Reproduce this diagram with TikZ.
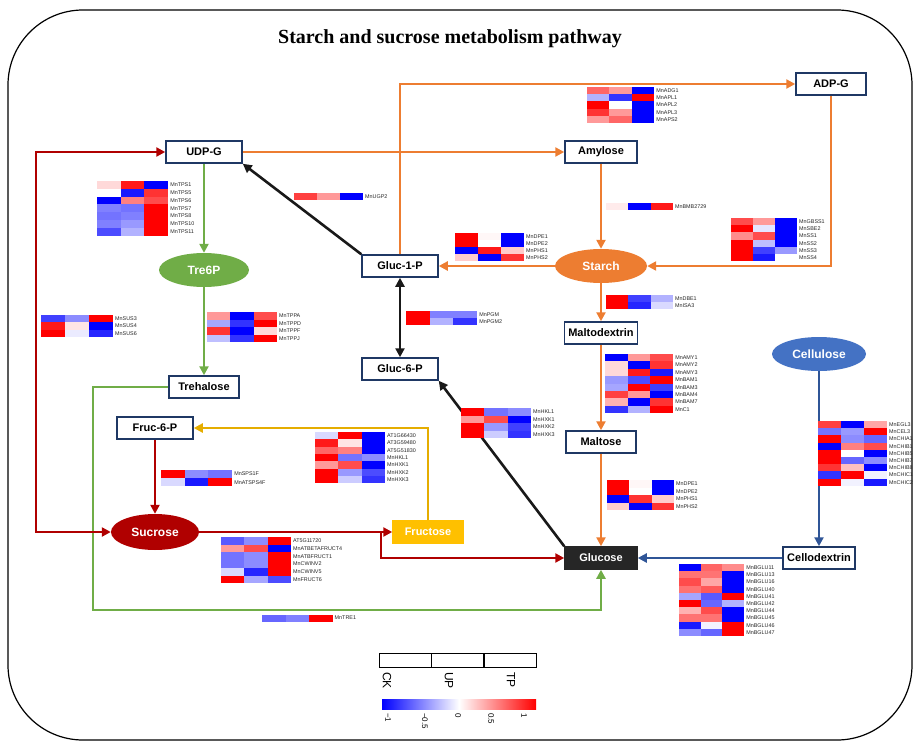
\documentclass[tikz,border=0pt]{standalone}
\usepackage{fontspec}
\setmainfont{Liberation Serif}
\setsansfont{Liberation Sans}
\usetikzlibrary{arrows.meta,shapes.geometric,positioning}
\definecolor{BoxNavy}{HTML}{1F3864}
\definecolor{StarchOrange}{HTML}{ED7D31}
\definecolor{TreGreen}{HTML}{70AD47}
\definecolor{SucRed}{HTML}{B00000}
\definecolor{CellBlue}{HTML}{4472C4}
\definecolor{CellLine}{HTML}{2F5597}
\definecolor{FruYellow}{HTML}{FFC000}

% heatmap: id, x, y (top), cell width, row height, rows v1/v2/v3/gene
\newcommand\heatmap[6]{%
  \foreach [count=\row from 0] \va/\vb/\vc/\g in {#6} {
    \foreach [count=\col from 0] \v in {\va,\vb,\vc} {
      \pgfmathtruncatemacro\pc{abs(\v)}
      \ifnum\v<0 \colorlet{hmc}{blue!\pc!white}\else\colorlet{hmc}{red!\pc!white}\fi
      \fill[hmc] ({#2+\col*#4},{#3+\row*#5}) rectangle ++(#4,#5);
    }
    \node[gene] (#1-\g) at ({#2+3*#4+2},{#3+(\row+0.5)*#5}) {\g};
  }
}

\begin{document}
\begin{tikzpicture}[x=1pt,y=-1pt,
  met/.style={draw=BoxNavy, line width=1.5pt, fill=white, minimum width=70pt,
              minimum height=22pt, inner xsep=4pt,
              font=\sffamily\bfseries\fontsize{11}{13}\selectfont},
  blob/.style={ellipse, minimum width=92pt, minimum height=34pt, text=white,
               font=\sffamily\bfseries\fontsize{12}{14}\selectfont},
  arr/.style={-{Triangle[length=9pt,width=9pt]}, line width=2.6pt},
  dbl/.style={{Triangle[length=9pt,width=9pt]}-{Triangle[length=9pt,width=9pt]},
              line width=2.6pt},
  gene/.style={anchor=west, inner sep=0pt, text=black!85,
               font=\sffamily\fontsize{5.4}{6}\selectfont},
  legbox/.style={draw, line width=0.6pt, minimum width=52pt, minimum height=14pt,
                 inner sep=0pt},
  legtxt/.style={anchor=west, rotate=-90, inner sep=0pt,
                 font=\sffamily\fontsize{12}{14}\selectfont},
  ticktxt/.style={anchor=west, rotate=-90, inner sep=0pt,
                  font=\sffamily\fontsize{8}{9}\selectfont}
]
\useasboundingbox (0,0) rectangle (919,744);
\draw[line width=1.2pt, rounded corners=75pt] (8,10) rectangle (912,740);

\node[font=\bfseries\fontsize{20}{24}\selectfont] (title) at (450,39)
  {Starch and sucrose metabolism pathway};

% metabolites
\node[met, minimum width=76pt] (udpg) at (204,152) {UDP-G};
\node[met] (adpg) at (831,84) {ADP-G};
\node[met, minimum width=72pt] (amylose) at (601,152) {Amylose};
\node[met, minimum width=76pt] (g1p) at (400,266) {Gluc-1-P};
\node[met, minimum width=76pt] (g6p) at (400,369) {Gluc-6-P};
\node[met] (maltodextrin) at (601,333) {Maltodextrin};
\node[met] (maltose) at (601,442) {Maltose};
\node[met] (trehalose) at (204,387) {Trehalose};
\node[met, minimum width=76pt] (fruc6p) at (155,428) {Fruc-6-P};
\node[met] (cellodextrin) at (819,558) {Cellodextrin};
\node[met, draw=black!85, fill=black!85, text=white, minimum width=72pt] (glucose)
  at (601,558) {Glucose};
\node[met, draw=FruYellow, fill=FruYellow, text=white] (fructose) at (428,532) {Fructose};
\node[blob, fill=StarchOrange] (starch) at (601,266) {Starch};
\node[blob, fill=TreGreen, minimum width=90pt] (tre6p) at (204,270) {Tre6P};
\node[blob, fill=SucRed, minimum width=88pt, minimum height=36pt] (sucrose)
  at (155,532) {Sucrose};
\node[blob, fill=CellBlue, minimum width=94pt] (cellulose) at (819,354) {Cellulose};

% orange
\draw[arr, StarchOrange] (udpg.east) -- (amylose.west);
\draw[arr, StarchOrange] (amylose.south) -- (starch.north);
\draw[arr, StarchOrange] (g1p.north) |- (adpg.west);
\draw[arr, StarchOrange] (adpg.south) |- (starch.east);
\draw[arr, StarchOrange] (starch.west) -- (g1p.east);
\draw[arr, StarchOrange] (starch.south) -- (maltodextrin.north);
\draw[arr, StarchOrange] (maltodextrin.south) -- (maltose.north);
\draw[arr, StarchOrange] (maltose.south) -- (glucose.north);

% green
\coordinate (trecorner) at (93,610);
\draw[arr, TreGreen] (udpg.south) -- (tre6p.north);
\draw[arr, TreGreen] (tre6p.south) -- (trehalose.north);
\draw[arr, TreGreen] (trehalose.west) -| (trecorner) -| (glucose.south);

% dark red
\coordinate (sucup) at (36,152);
\coordinate (sucdown) at (36,532);
\coordinate (sucsplit) at (381,532);
\draw[dbl, SucRed] (udpg.west) -- (sucup) -- (sucdown) -- (sucrose.west);
\draw[arr, SucRed] (fruc6p.south) -- (sucrose.north);
\draw[arr, SucRed] (sucrose.east) -- (fructose.west);
\draw[arr, SucRed] (sucsplit) |- (glucose.west);

% yellow
\draw[arr, FruYellow!90!black] (fructose.north) |- (fruc6p.east);

% black
\draw[arr, black!90] (g1p.north west) -- (udpg.south east);
\draw[dbl, black!90] (g1p.south) -- (g6p.north);
\draw[arr, black!90] (glucose.north west) -- (g6p.south east);

% blue
\draw[arr, CellLine] (cellulose.south) -- (cellodextrin.north);
\draw[arr, CellLine] (cellodextrin.west) -- (glucose.east);

% heatmaps
\heatmap{adp}{587}{87}{22.4}{7.2}{60/40/-100/MnADG1, -30/-80/100/MnAPL1,
  100/0/-100/MnAPL2, 80/40/-100/MnAPL3, 40/60/-100/MnAPS2}
\heatmap{tps}{97}{181}{23.7}{7.8}{15/90/-100/MnTPS1, 0/-90/80/MnTPS5,
  -100/50/70/MnTPS6, -50/-55/100/MnTPS7, -55/-50/100/MnTPS8,
  -50/-40/100/MnTPS10, -70/-30/100/MnTPS11}
\heatmap{ugp}{294}{193}{23}{7}{75/40/-100/MnUGP2}
\heatmap{bmb}{606}{203}{22.3}{6.5}{8/-100/90/MnBMB2729}
\heatmap{gbss}{731}{218}{22}{7.2}{70/40/-100/MnGBSS1, 100/-10/-100/MnSBE2,
  45/70/-100/MnSS1, 100/-25/-100/MnSS2, 100/-75/-40/MnSS3, 100/-90/0/MnSS4}
\heatmap{dpea}{455}{233}{23}{7}{100/3/-100/MnDPE1, 100/0/-100/MnDPE2,
  -100/90/20/MnPHS1, 20/-100/80/MnPHS2}
\heatmap{sus}{41}{315}{24}{7.3}{-75/-45/100/MnSUS3, 90/10/-100/MnSUS4,
  100/-8/-85/MnSUS6}
\heatmap{tpp}{207}{312}{23.3}{7.5}{40/-100/70/MnTPPA, -35/-80/100/MnTPPD,
  80/-100/15/MnTPPF, -25/-80/100/MnTPPJ}
\heatmap{pgm}{406}{311}{23.7}{7}{100/-50/-50/MnPGM, 100/-30/-80/MnPGM2}
\heatmap{dbe}{606}{295}{22.3}{7}{100/-75/-30/MnDBE1, 100/-85/-15/MnISA3}
\heatmap{amy}{605}{354}{22.7}{7.4}{-100/40/70/MnAMY1, 15/-100/80/MnAMY2,
  15/90/-90/MnAMY3, -40/-70/100/MnBAM1, -35/100/-75/MnBAM3,
  75/40/-100/MnBAM4, 30/-100/80/MnBAM7, -80/-30/100/MnC1}
\heatmap{hxk}{461}{408}{23.3}{7.5}{100/-55/-45/MnHKL1, 40/70/-100/MnHXK1,
  100/-40/-75/MnHXK2, 100/-20/-80/MnHXK3}
\heatmap{frk}{315}{432}{23.3}{7.3}{-15/100/-100/AT1G66430, 90/10/-100/AT3G59480,
  60/50/-100/AT5G51830, 100/-55/-45/MnHKL1, 40/70/-100/MnHXK1,
  100/-40/-70/MnHXK2, 100/-20/-80/MnHXK3}
\heatmap{egl}{818}{421}{23}{7.2}{75/-100/35/MnEGL3, -55/-40/100/MnCEL3,
  100/-45/-60/MnCHIA1, -100/50/70/MnCHIB1, 100/0/-100/MnCHIB5,
  100/-60/-45/MnCHIB7, 80/25/-100/MnCHIB8, -80/100/-5/MnCHIC1,
  100/-5/-90/MnCHIC2}
\heatmap{sps}{161}{470}{23.7}{8.2}{100/-45/-55/MnSPS1F, -15/-90/100/MnATSPS4F}
\heatmap{inv}{221}{537}{23.3}{7.7}{-65/-45/100/AT5G11720,
  40/70/-100/MnATBETAFRUCT4, -55/-45/100/MnATBFRUCT1, -55/-45/100/MnCWINV2,
  -15/-85/100/MnCWINV5, 100/-35/-70/MnFRUCT6}
\heatmap{dpeb}{607}{480}{22.3}{7.5}{100/3/-100/MnDPE1, 100/0/-100/MnDPE2,
  -100/80/20/MnPHS1, 20/-100/80/MnPHS2}
\heatmap{tre}{262}{614.5}{23.5}{7}{-60/-50/100/MnTRE1}
\heatmap{bglu}{679}{564}{21.7}{7.2}{-100/60/45/MnBGLU11, 55/55/-100/MnBGLU13,
  70/35/-100/MnBGLU16, 55/65/-100/MnBGLU40, -35/-65/100/MnBGLU41,
  100/-60/-30/MnBGLU42, 30/70/-100/MnBGLU44, 55/55/-100/MnBGLU45,
  -90/-5/100/MnBGLU46, -45/-60/100/MnBGLU47}

% legend
\node[legbox] (legck) at (405,660) {};
\node[legbox, right=0pt of legck] (legup) {};
\node[legbox, right=0pt of legup] (legtp) {};
\node[legtxt] (ck) at (387,672) {CK};
\node[legtxt] (up) at (449,672) {UP};
\node[legtxt] (tp) at (511,672) {TP};
\shade[left color=blue, right color=red, middle color=white] (382,699) rectangle (536,709);
\foreach \tx/\tl [count=\i] in {388/−1, 425/−0.5, 458/0, 491/0.5, 524/1}
  \node[ticktxt] (tick\i) at (\tx,713) {\tl};
\end{tikzpicture}
\end{document}
